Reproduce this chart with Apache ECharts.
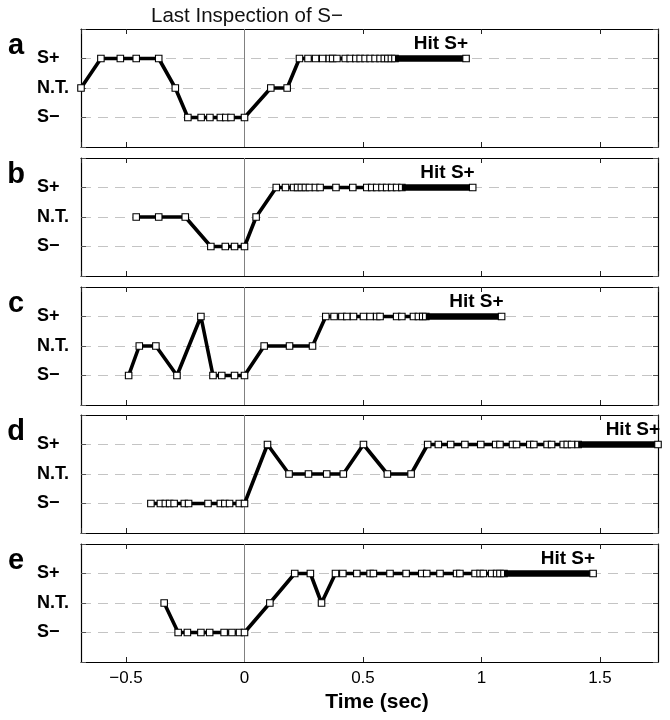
<!DOCTYPE html>
<html>
<head>
<meta charset="utf-8">
<script src="https://cdn.jsdelivr.net/npm/echarts@6/dist/echarts.min.js"></script>
<style>html,body{margin:0;padding:0;background:#fff;}#chart{width:670px;height:720px;}</style>
</head>
<body>
<div id="chart"></div>
<script>
// ---- Data (time in sec, level: 1 = S−, 2 = N.T., 3 = S+) ----
const levelLabels = ['', 'S−', 'N.T.', 'S+', ''];
const xTickRange = [-0.69, 1.745];

const aT = [-0.690, -0.606, -0.524, -0.457, -0.362, -0.292, -0.239, -0.183, -0.146, -0.102, -0.079, -0.057, 0.000, 0.111, 0.180, 0.232, 0.268, 0.300, 0.330, 0.358, 0.372, 0.390, 0.425, 0.446, 0.470, 0.488, 0.509, 0.530, 0.551, 0.572, 0.590, 0.605, 0.620, 0.635];
const aV = [2, 3, 3, 3, 3, 2, 1, 1, 1, 1, 1, 1, 1, 2, 2, 3, 3, 3, 3, 3, 3, 3, 3, 3, 3, 3, 3, 3, 3, 3, 3, 3, 3, 3];
const aDense = [0.635, 0.935];

const bT = [-0.457, -0.362, -0.250, -0.142, -0.081, -0.042, 0.000, 0.049, 0.134, 0.173, 0.207, 0.224, 0.240, 0.257, 0.274, 0.299, 0.319, 0.386, 0.457, 0.516, 0.537, 0.558, 0.580, 0.600, 0.621, 0.642, 0.664];
const bV = [2, 2, 2, 1, 1, 1, 1, 2, 3, 3, 3, 3, 3, 3, 3, 3, 3, 3, 3, 3, 3, 3, 3, 3, 3, 3, 3];
const bDense = [0.664, 0.963];

const cT = [-0.489, -0.444, -0.374, -0.285, -0.184, -0.133, -0.096, -0.042, 0.000, 0.083, 0.190, 0.287, 0.343, 0.378, 0.411, 0.432, 0.460, 0.502, 0.530, 0.558, 0.572, 0.642, 0.664, 0.713, 0.734, 0.752, 0.765];
const cV = [1, 2, 2, 1, 3, 1, 1, 1, 1, 2, 2, 2, 3, 3, 3, 3, 3, 3, 3, 3, 3, 3, 3, 3, 3, 3, 3];
const cDense = [0.765, 1.085];

const dT = [-0.395, -0.355, -0.334, -0.316, -0.297, -0.254, -0.236, -0.154, -0.102, -0.083, -0.063, -0.022, 0.000, 0.097, 0.188, 0.270, 0.347, 0.417, 0.502, 0.603, 0.703, 0.773, 0.818, 0.870, 0.930, 0.997, 1.060, 1.078, 1.131, 1.148, 1.204, 1.221, 1.277, 1.296, 1.345, 1.362, 1.380, 1.408];
const dV = [1, 1, 1, 1, 1, 1, 1, 1, 1, 1, 1, 1, 1, 3, 2, 2, 2, 2, 3, 2, 2, 3, 3, 3, 3, 3, 3, 3, 3, 3, 3, 3, 3, 3, 3, 3, 3, 3];
const dDense = [1.408, 1.745];

const eT = [-0.339, -0.280, -0.241, -0.184, -0.147, -0.086, -0.053, -0.021, 0.000, 0.107, 0.212, 0.278, 0.325, 0.384, 0.415, 0.474, 0.530, 0.544, 0.614, 0.682, 0.748, 0.769, 0.825, 0.895, 0.909, 0.973, 0.994, 1.008, 1.043, 1.064, 1.078, 1.095];
const eV = [2, 1, 1, 1, 1, 1, 1, 1, 1, 2, 3, 3, 2, 3, 3, 3, 3, 3, 3, 3, 3, 3, 3, 3, 3, 3, 3, 3, 3, 3, 3, 3];
const eDense = [1.095, 1.471];

const panelLetters = ['a', 'b', 'c', 'd', 'e'];
const hitText = 'Hit S+';
const titleText = 'Last Inspection of S−';
const xName = 'Time (sec)';

// ---- Build chart ----
const panels = [
  { t: aT, v: aV, dense: aDense },
  { t: bT, v: bV, dense: bDense },
  { t: cT, v: cV, dense: cDense },
  { t: dT, v: dV, dense: dDense },
  { t: eT, v: eV, dense: eDense }
];

const FONT = 'Liberation Sans, Arial, Helvetica, sans-serif';
const tops = [29, 158, 287, 415, 544];
const H = 118;
const grids = [], xAxes = [], yAxes = [], series = [], graphics = [];

panels.forEach((p, i) => {
  grids.push({ left: 81, right: 12, top: tops[i], height: H, containLabel: false });
  const baseX = {
    type: 'value', gridIndex: i, min: xTickRange[0], max: xTickRange[1], splitNumber: 5,
    axisLine: { show: true, onZero: false, lineStyle: { color: '#000', width: 1.2 } },
    axisTick: { show: true, inside: true, length: 5, lineStyle: { color: '#222', width: 1 } },
    splitLine: { show: false }
  };
  xAxes.push(Object.assign({}, baseX, {
    position: 'bottom',
    axisLabel: {
      show: i === panels.length - 1, showMinLabel: false, showMaxLabel: false,
      margin: 8, fontSize: 17, color: '#000', fontFamily: FONT,
      formatter: v => String(v).replace('-', '−')
    }
  }));
  xAxes.push(Object.assign({}, baseX, { position: 'top', axisLabel: { show: false } }));
  const baseY = {
    type: 'value', gridIndex: i, min: 0, max: 4, interval: 1,
    axisLine: { show: true, onZero: false, lineStyle: { color: '#000', width: 1.2 } },
    axisTick: { show: true, inside: true, length: 5, lineStyle: { color: '#555', width: 1 } }
  };
  yAxes.push(Object.assign({}, baseY, {
    position: 'left',
    axisLabel: {
      show: true, formatter: v => levelLabels[v] || '', align: 'left', margin: 44,
      fontSize: 18, fontWeight: 'bold', color: '#000', fontFamily: FONT
    },
    splitLine: {
      show: true,
      lineStyle: { color: ['rgba(0,0,0,0)', '#c4c4c4', '#c4c4c4', '#c4c4c4', 'rgba(0,0,0,0)'], type: [10, 7], width: 1 }
    }
  }));
  yAxes.push(Object.assign({}, baseY, { position: 'right', axisLabel: { show: false }, splitLine: { show: false } }));

  const xi = 2 * i, yi = 2 * i;
  // vertical reference line at t = 0
  series.push({
    type: 'line', xAxisIndex: xi, yAxisIndex: yi, data: [[0, 0], [0, 4]],
    symbol: 'none', lineStyle: { color: '#808080', width: 1 }, z: 1, silent: true, animation: false
  });
  // main trace
  series.push({
    type: 'line', xAxisIndex: xi, yAxisIndex: yi,
    data: p.t.map((x, k) => [x, p.v[k]]),
    symbol: 'rect', symbolSize: 6.5, showAllSymbol: true,
    lineStyle: { color: '#000', width: 3.6 },
    itemStyle: { color: '#fff', borderColor: '#000', borderWidth: 1.1 },
    clip: false, z: 3, animation: false
  });
  // dense stretch of samples at S+ until the hit
  series.push({
    type: 'line', xAxisIndex: xi, yAxisIndex: yi,
    data: [
      { value: [p.dense[0], 3], symbol: 'none' },
      {
        value: [p.dense[1], 3], symbol: 'rect', symbolSize: 6.5,
        label: {
          show: true, formatter: hitText, position: 'top', align: 'right', distance: 1,
          offset: [2, 0], fontSize: 19, fontWeight: 'bold', color: '#000', fontFamily: FONT
        }
      }
    ],
    lineStyle: { color: '#000', width: 6.5 },
    itemStyle: { color: '#fff', borderColor: '#000', borderWidth: 1.1 },
    clip: false, z: 4, animation: false
  });
  graphics.push({
    type: 'text', x: 16, y: tops[i] + 16.5,
    style: { text: panelLetters[i], align: 'center', verticalAlign: 'middle', fontSize: 29, fontWeight: 'bold', fill: '#000', fontFamily: FONT }
  });
});

graphics.push({
  type: 'text', x: 247, y: 16,
  style: { text: titleText, align: 'center', verticalAlign: 'middle', fontSize: 20.5, fill: '#111', fontFamily: FONT }
});
graphics.push({
  type: 'text', x: 377, y: 702,
  style: { text: xName, align: 'center', verticalAlign: 'middle', fontSize: 21, fontWeight: 'bold', fill: '#000', fontFamily: FONT }
});

const chart = echarts.init(document.getElementById('chart'), null, { renderer: 'canvas' });
chart.setOption({
  backgroundColor: '#fff',
  animation: false,
  grid: grids, xAxis: xAxes, yAxis: yAxes, series: series, graphic: graphics
});
</script>
</body>
</html>
